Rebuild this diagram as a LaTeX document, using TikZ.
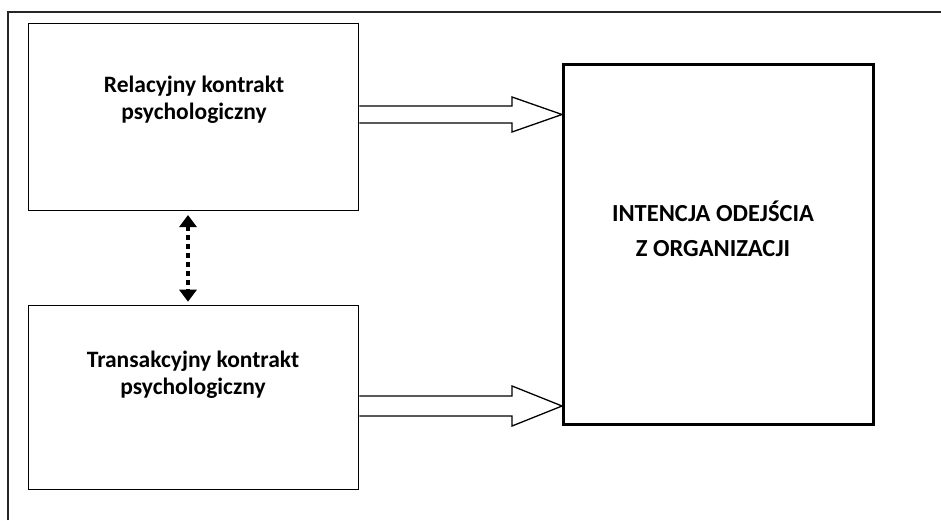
\documentclass[tikz,border=0pt]{standalone}
\usepackage{fontspec}
\setmainfont{Carlito}
\usetikzlibrary{arrows.meta,calc}
\tikzset{
  box/.style={draw=black, line width=1.3pt, inner sep=0pt, anchor=south west},
  bigbox/.style={draw=black, line width=2.6pt, inner sep=0pt, anchor=south west},
  lbl/.style={font=\bfseries\fontsize{23.5}{27}\selectfont, inner sep=0pt, anchor=base},
  biglbl/.style={font=\bfseries\fontsize{24.5}{27}\selectfont, inner sep=0pt, anchor=base},
  blockarrow/.style={draw=black, line width=1.3pt, fill=white, line join=miter},
  dotarrow/.style={line width=4pt, dash pattern=on 4.5pt off 4.5pt,
    {Triangle[length=12pt,width=17pt]}-{Triangle[length=12pt,width=17pt]}, shorten <=4pt, shorten >=3pt}
}
\begin{document}
\begin{tikzpicture}[x=1pt,y=1pt]
\useasboundingbox (0,0) rectangle (941,520);
% outer frame (open on right and bottom)
\draw[line width=1.2pt, black!85] (8,0) -- (8,508) -- (941,508);
% boxes
\node[box, minimum width=330pt, minimum height=187pt] (rel) at (28,309) {};
\node[box, minimum width=330pt, minimum height=184pt] (tra) at (28,30) {};
\node[bigbox, minimum width=310pt, minimum height=360pt] (int) at (562,94) {};
% labels
\node[lbl] (rel1) at (194,427) {Relacyjny kontrakt};
\node[lbl] (rel2) at (194,400) {psychologiczny};
\node[lbl] (tra1) at (193,153) {Transakcyjny kontrakt};
\node[lbl] (tra2) at (193,126) {psychologiczny};
\node[biglbl] (int1) at (713,298.5) {INTENCJA ODEJŚCIA};
\node[biglbl] (int2) at (713,263.5) {Z ORGANIZACJI};
% block arrow 1
\coordinate (a1s) at (rel.east |- 0,405.5);
\coordinate (a1t) at (int.west |- 0,405.5);
\draw[blockarrow] ($(a1s)+(0,8.5)$) -- ($(a1t)+(-50,8.5)$) -- ($(a1t)+(-50,17.5)$) -- (a1t)
  -- ($(a1t)+(-50,-17.5)$) -- ($(a1t)+(-50,-8.5)$) -- ($(a1s)+(0,-8.5)$);
% block arrow 2
\coordinate (a2s) at (tra.east |- 0,114);
\coordinate (a2t) at (int.west |- 0,114);
\draw[blockarrow] ($(a2s)+(0,10)$) -- ($(a2t)+(-50,10)$) -- ($(a2t)+(-50,20)$) -- (a2t)
  -- ($(a2t)+(-50,-20)$) -- ($(a2t)+(-50,-10)$) -- ($(a2s)+(0,-10)$);
% dotted double arrow
\draw[dotarrow] (rel.south -| 188,0) -- (tra.north -| 188,0);
\end{tikzpicture}
\end{document}
